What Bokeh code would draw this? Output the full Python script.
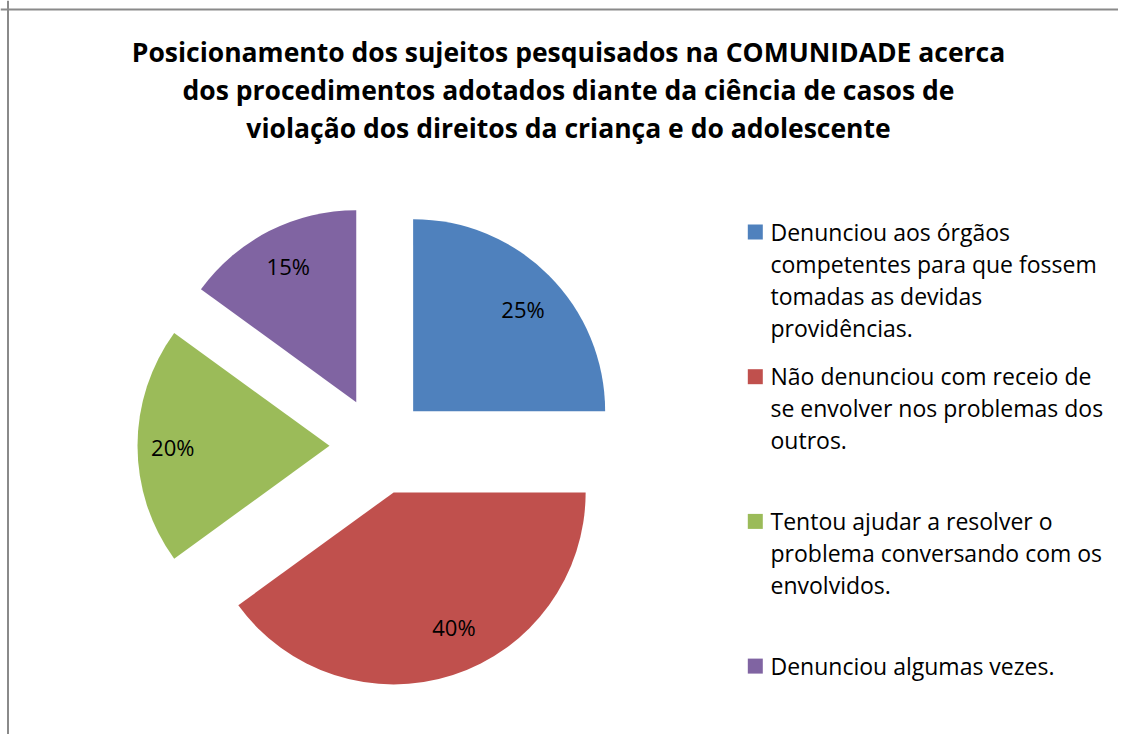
import numpy as np
from bokeh.plotting import figure
from bokeh.models import Range1d, Span, ColumnDataSource
from bokeh.core.properties import value
from bokeh.embed import file_html
from bokeh.resources import INLINE

# ---------------- data ----------------
categories = [
    "Denunciou aos órgãos competentes para que fossem tomadas as devidas providências.",
    "Não denunciou com receio de se envolver nos problemas dos outros.",
    "Tentou ajudar a resolver o problema conversando com os envolvidos.",
    "Denunciou algumas vezes.",
]
values = [25, 40, 20, 15]
pct_labels = ["25%", "40%", "20%", "15%"]
colors = ["#4F81BD", "#C0504D", "#9BBB59", "#8064A2"]
legend_lines = [
    ["Denunciou aos órgãos", "competentes para que fossem", "tomadas as devidas", "providências."],
    ["Não denunciou com receio de", "se envolver nos problemas dos", "outros."],
    ["Tentou ajudar a resolver o", "problema conversando com os", "envolvidos."],
    ["Denunciou algumas vezes."],
]
title_lines = [
    "Posicionamento dos sujeitos pesquisados na COMUNIDADE acerca",
    "dos procedimentos adotados diante da ciência de casos de",
    "violação dos direitos da criança e do adolescente",
]

# ---------------- layout ----------------
W, H = 1118, 734
def sx(px):
    return px
def sy(py):
    return H - py

FONT = "Open Sans"
BASE_FIX = 9  # renderer places alphabetic baseline lower; compensate

p = figure(width=W, height=H, x_range=Range1d(0, W), y_range=Range1d(0, H),
           output_backend="svg", toolbar_location=None,
           x_axis_location=None, y_axis_location=None, min_border=0)
p.grid.visible = False
p.outline_line_color = None
p.background_fill_color = "white"
p.border_fill_color = "white"

# chart-area border (left and top edges visible)
p.add_layout(Span(location=sx(7.5), dimension="height", line_color="#8a8a8a", line_width=2))
p.add_layout(Span(location=sy(9), dimension="width", line_color="#8a8a8a", line_width=2))

# ---------------- pie ----------------
vals = np.array(values, dtype=float)
frac = vals / vals.sum()
cum = np.concatenate([[0.0], np.cumsum(frac)])
start = np.pi / 2 - 2 * np.pi * cum[:-1]
end = np.pi / 2 - 2 * np.pi * cum[1:]
mid = (start + end) / 2

cx, cy = sx(378), sy(445.3)
R = 192
EXPLODE = 49
wx = cx + EXPLODE * np.cos(mid)
wy = cy + EXPLODE * np.sin(mid)

src = ColumnDataSource(dict(x=wx, y=wy, start=start, end=end, color=colors,
                            cat=categories, val=vals))
p.wedge(x="x", y="y", radius=R, start_angle="start", end_angle="end",
        direction="clock", fill_color="color", line_color=None, source=src)

# data labels: along bisector, with small best-fit nudges (data units, y up)
LAB = 0.78 * R
nudge_x = np.array([4, 14, -7, 0])
nudge_y = np.array([-4, 8, -1, 3])
lsrc = ColumnDataSource(dict(x=wx + LAB * np.cos(mid) + nudge_x,
                             y=wy + LAB * np.sin(mid) + nudge_y, t=pct_labels))
p.text(x="x", y="y", text="t", source=lsrc, text_font=value(FONT), text_font_size="22px",
       text_align="center", text_baseline="middle", text_color="black")

# ---------------- title ----------------
tsrc = ColumnDataSource(dict(x=[sx(568)] * 3,
                             y=[sy(60 - BASE_FIX), sy(98 - BASE_FIX), sy(136.5 - BASE_FIX)],
                             t=title_lines))
p.text(x="x", y="y", text="t", source=tsrc, text_font=value(FONT), text_font_size="26.5px",
       text_font_style="bold", text_align="center", text_baseline="alphabetic", text_color="black")

# ---------------- legend ----------------
LEG_X_MARK = sx(754.8)
LEG_X_TEXT = sx(770)
first_base = 240
item_step = 144.7
line_step = 32
mx, my, mc = [], [], []
tx, ty, tt = [], [], []
for i, lines in enumerate(legend_lines):
    b = first_base + i * item_step
    mx.append(LEG_X_MARK)
    my.append(sy(b - 8.5))
    mc.append(colors[i])
    for j, ln in enumerate(lines):
        tx.append(LEG_X_TEXT)
        ty.append(sy(b + j * line_step - BASE_FIX))
        tt.append(ln)
p.scatter(x=mx, y=my, marker="square", size=15, fill_color=mc, line_color=None)
p.text(x=tx, y=ty, text=tt, text_font=value(FONT), text_font_size="23px",
       text_align="left", text_baseline="alphabetic", text_color="black")

open("out.html", "w").write(file_html(p, INLINE))
